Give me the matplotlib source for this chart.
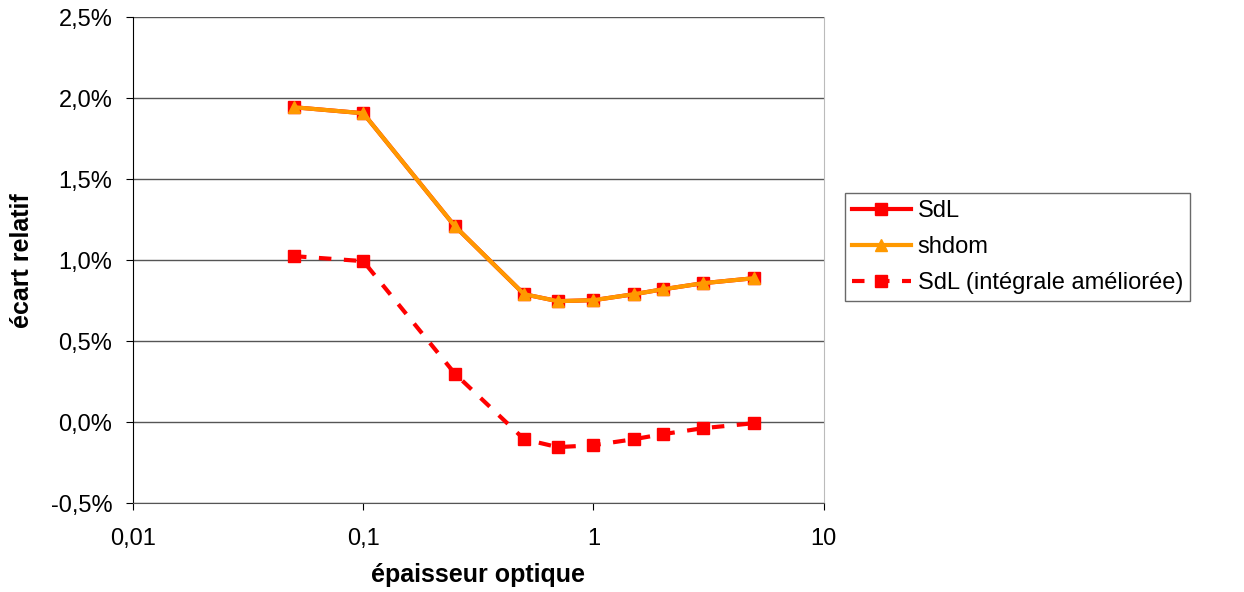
import numpy as np
import matplotlib.pyplot as plt
from matplotlib.ticker import FixedLocator, FuncFormatter

plt.rcParams["font.family"] = ["Liberation Sans", "DejaVu Sans"]

# optical thickness values
epaisseur = [0.05, 0.1, 0.25, 0.5, 0.7, 1, 1.5, 2, 3, 5]

# relative deviation (%)
sdl = [1.944, 1.907, 1.21, 0.79, 0.747, 0.753, 0.79, 0.82, 0.858, 0.889]
shdom = [1.944, 1.907, 1.21, 0.79, 0.747, 0.753, 0.79, 0.82, 0.858, 0.889]
sdl_amel = [1.025, 0.994, 0.30, -0.105, -0.154, -0.142, -0.105, -0.074, -0.037, -0.006]

y_ticks = [-0.5, 0.0, 0.5, 1.0, 1.5, 2.0, 2.5]
x_ticks = [0.01, 0.1, 1, 10]
x_labels = ["0,01", "0,1", "1", "10"]

fig = plt.figure(figsize=(12.44, 5.92), dpi=100)
ax = fig.add_axes([0.107, 0.150, 0.555, 0.821])

ax.plot(epaisseur, sdl, color="#ff0000", lw=3, marker="s", ms=9,
        mec="#ff0000", mfc="#ff0000", label="SdL", zorder=3)
ax.plot(epaisseur, shdom, color="#ff9900", lw=3, marker="^", ms=9,
        mec="#ff9900", mfc="#ff9900", label="shdom", zorder=4)
ax.plot(epaisseur, sdl_amel, color="#ff0000", lw=3, ls=(0, (3, 3)), marker="s", ms=9,
        mec="#ff0000", mfc="#ff0000", label="SdL (intégrale améliorée)", zorder=3)

ax.set_xscale("log")
ax.set_xlim(0.01, 10)
ax.set_ylim(-0.5, 2.5)
ax.xaxis.set_major_locator(FixedLocator(x_ticks))
ax.xaxis.set_minor_locator(FixedLocator([]))
ax.set_xticklabels(x_labels)
ax.set_yticks(y_ticks)
ax.yaxis.set_major_formatter(FuncFormatter(lambda v, p: f"{v:.1f}%".replace(".", ",")))

ax.grid(axis="y", color="#555555", lw=1)
ax.set_axisbelow(True)
ax.spines["top"].set_visible(False)
ax.spines["right"].set_color("#bbbbbb")
ax.spines["left"].set_color("black")
ax.spines["bottom"].set_color("#555555")
ax.tick_params(axis="both", labelsize=17, length=5, direction="out")
ax.tick_params(axis="y", pad=10)
ax.tick_params(axis="x", pad=13)

ax.set_xlabel("épaisseur optique", fontsize=18, fontweight="bold", labelpad=9)
ax.set_ylabel("écart relatif", fontsize=18, fontweight="bold", labelpad=12)

leg = fig.legend(loc="upper left", bbox_to_anchor=(0.679, 0.674), fontsize=17,
                 frameon=True, fancybox=False, edgecolor="#444444", handlelength=2.5,
                 handletextpad=0.3, borderpad=0.3, borderaxespad=0,
                 labelspacing=0.6)
leg.get_frame().set_linewidth(1)

fig.savefig("out.png", dpi=100)
